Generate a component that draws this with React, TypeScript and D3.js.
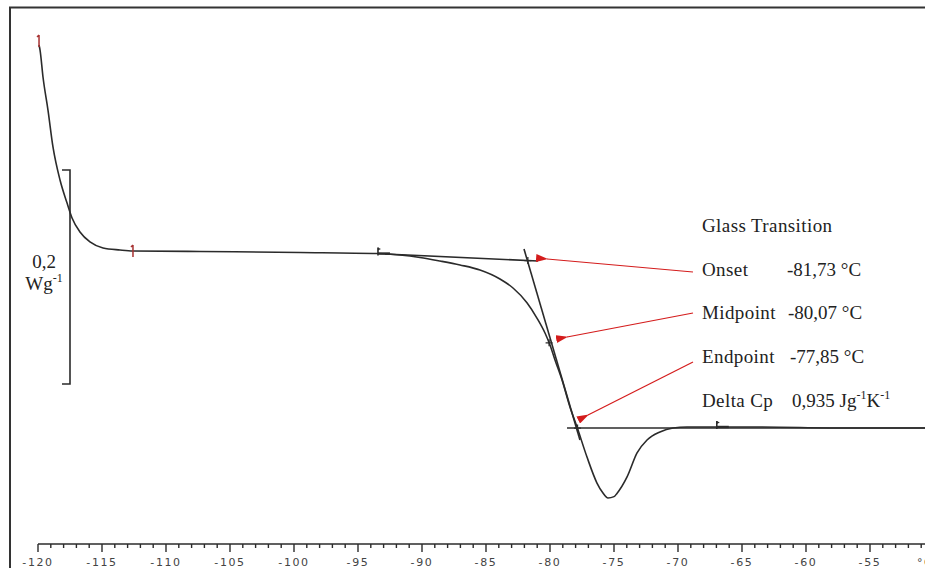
import React from "react";
import * as d3 from "d3";

// DSC heating curve: temperature (°C) vs heat flow (W/g, relative to the glassy baseline)
const temperature = [
  -119.92, -119.84, -119.61, -119.22, -118.83, -118.28, -117.73, -117.34, -116.72, -115.94,
  -114.92, -113.59, -112.58, -107.34, -99.53, -93.44, -91.72, -90.16, -88.59, -87.03,
  -85.47, -83.91, -82.89, -81.8, -81.02, -80.39, -80.0, -79.61, -79.06, -78.44,
  -77.89, -77.11, -76.33, -75.86, -75.47, -75.0, -74.77, -73.98, -73.2, -72.42,
  -71.41, -70.39, -69.3, -64.38, -56.56, -50.0,
];
const heatFlow = [
  0.1916, 0.1869, 0.1617, 0.1308, 0.0963, 0.0654, 0.0439, 0.0299, 0.0168, 0.0075,
  0.0019, 0.0, -0.0009, -0.0014, -0.0023, -0.0033, -0.0047, -0.007, -0.0103, -0.014,
  -0.0187, -0.0271, -0.0355, -0.0493, -0.0636, -0.0776, -0.0888, -0.1028, -0.1215, -0.1467,
  -0.1654, -0.1935, -0.2178, -0.2272, -0.2318, -0.2305, -0.2275, -0.2121, -0.1897, -0.1776,
  -0.1701, -0.1664, -0.1654, -0.1654, -0.1664, -0.1664,
];

// Construction lines for the glass transition evaluation
const tangentGlass = { t: [-92.89, -80.94], v: [-0.0037, -0.0103] };
const tangentInflection = { t: [-82.03, -77.66], v: [0.0009, -0.1776] };
const tangentRubber = { t: [-78.67, -50.0], v: [-0.1664, -0.1664] };

// Evaluation limits (red) and integration limits (black)
const redMarkers = [-119.92, -112.58];
const blackMarkers = [-93.44, -66.97];

// Glass transition results
const resultLabels = ["Onset", "Midpoint", "Endpoint", "Delta Cp"];
const resultValues = ["-81,73 °C", "-80,07 °C", "-77,85 °C", "0,935 Jg"];
const transitionTemps = [-81.73, -80.07, -77.85];
// Arrow tips, placed just right of each characteristic point
const arrowTipT = [-80.23, -78.67, -77.03];
const arrowTipV = [-0.0084, -0.0813, -0.1542];

// Temperature axis
const tempMin = -120;
const tempMax = -50;
const majorStep = 5;

export default function App() {
  const width = 925;
  const height = 568;

  const x = d3.scaleLinear().domain([tempMin, tempMax]).range([38, 934]);
  const y = d3.scaleLinear().domain([0, -0.2]).range([250, 464]);

  const points: [number, number][] = temperature.map((t, i) => [t, heatFlow[i]]);
  const line = d3
    .line<[number, number]>()
    .x((d) => x(d[0]))
    .y((d) => y(d[1]))
    .curve(d3.curveMonotoneX);

  const interp = (t: number) => {
    const i = d3.bisectLeft(temperature, t);
    if (i <= 0) return heatFlow[0];
    if (i >= temperature.length) return heatFlow[heatFlow.length - 1];
    const t0 = temperature[i - 1], t1 = temperature[i];
    const f = (t - t0) / (t1 - t0);
    return heatFlow[i - 1] + f * (heatFlow[i] - heatFlow[i - 1]);
  };

  const segLine = (s: { t: number[]; v: number[] }) =>
    `M${x(s.t[0])},${y(s.v[0])}L${x(s.t[1])},${y(s.v[1])}`;

  const minorTicks = d3.range(tempMin, tempMax + 0.5, 1);
  const majorTicks = d3.range(tempMin, tempMax, majorStep);

  const axisY = 544;
  const stroke = "#2b2b2b";
  const red = "#d41c1c";
  const textFont = "'Liberation Serif', 'Times New Roman', serif";

  const glassAt = (t: number) =>
    tangentGlass.v[0] +
    ((t - tangentGlass.t[0]) / (tangentGlass.t[1] - tangentGlass.t[0])) *
      (tangentGlass.v[1] - tangentGlass.v[0]);

  const labelX = 702;
  const valueX = [787, 788, 790, 792];
  const rowY = [276, 319, 363, 407];
  const arrowStart: [number, number][] = [
    [693, 272],
    [693, 313],
    [693, 362],
  ];

  return (
    <svg
      width={width}
      height={height}
      style={{ position: "absolute", left: 0, top: 0, background: "#fff", display: "block" }}
    >
      <defs>
        <marker
          id="arrowHead"
          viewBox="0 0 12 8"
          refX="1"
          refY="4"
          markerWidth="12"
          markerHeight="8"
          markerUnits="userSpaceOnUse"
          orient="auto-start-reverse"
        >
          <path d="M0,4L12,0L12,8Z" fill={red} />
        </marker>
      </defs>

      {/* frame */}
      <path d="M10,568V7.5H925" fill="none" stroke="#333" strokeWidth={2} />

      {/* heat flow scale bar */}
      <path
        d={`M62,${y(0.0748)}H70V${y(-0.1252)}H62`}
        fill="none"
        stroke={stroke}
        strokeWidth={1.6}
      />
      <text x={44} y={268} fontFamily={textFont} fontSize={19} textAnchor="middle" fill="#222">
        0,2
      </text>
      <text x={44} y={290} fontFamily={textFont} fontSize={19} textAnchor="middle" fill="#222">
        Wg
        <tspan fontSize={12} dy={-8}>
          -1
        </tspan>
      </text>

      {/* tangents */}
      <path d={segLine(tangentGlass)} stroke={stroke} strokeWidth={1.6} fill="none" />
      <path d={segLine(tangentInflection)} stroke={stroke} strokeWidth={1.6} fill="none" />
      <path d={segLine(tangentRubber)} stroke={stroke} strokeWidth={1.6} fill="none" />

      {/* measured curve */}
      <path d={line(points) ?? ""} fill="none" stroke={stroke} strokeWidth={1.6} />

      {/* onset / midpoint / endpoint crosses */}
      {transitionTemps.map((t, i) => {
        const cx = x(t);
        const cy = i === 0 ? y(glassAt(t)) : i === 1 ? y(interp(t)) : y(tangentRubber.v[0]);
        return (
          <path
            key={`c${i}`}
            d={`M${cx - 3.5},${cy}H${cx + 3.5}M${cx},${cy - 3.5}V${cy + 3.5}`}
            stroke={stroke}
            strokeWidth={1.3}
          />
        );
      })}

      {/* evaluation limit markers */}
      {redMarkers.map((t, i) => {
        const cx = x(t);
        const cy = i === 0 ? y(interp(t)) - 4 : y(interp(t));
        return (
          <path
            key={`r${i}`}
            d={`M${cx},${cy - 6}V${cy + 6}M${cx},${cy - 6}l-2,2`}
            stroke="#a83232"
            strokeWidth={1.5}
            fill="none"
          />
        );
      })}
      {blackMarkers.map((t, i) => {
        const cx = x(t);
        const cy = y(interp(t));
        return (
          <g key={`b${i}`}>
            <path
              d={`M${cx},${cy - 6}V${cy + 2}`}
              stroke={stroke}
              strokeWidth={1.6}
              fill="none"
            />
            <path d={`M${cx},${cy - 6}l3,1.5l-3,1.5Z`} fill={stroke} />
            <path d={`M${cx},${cy}h12`} stroke={stroke} strokeWidth={2.4} />
          </g>
        );
      })}

      {/* annotation arrows */}
      {arrowStart.map((s, i) => (
        <line
          key={`a${i}`}
          x1={s[0]}
          y1={s[1]}
          x2={x(arrowTipT[i])}
          y2={y(arrowTipV[i])}
          stroke={red}
          strokeWidth={1.2}
          markerEnd="url(#arrowHead)"
        />
      ))}

      {/* results */}
      <g fontFamily={textFont} fontSize={19} fill="#222" letterSpacing={0.4}>
        <text x={labelX} y={232}>
          Glass Transition
        </text>
        {resultLabels.map((l, i) => (
          <text key={`l${i}`} x={labelX} y={rowY[i]}>
            {l}
          </text>
        ))}
        {resultValues.map((v, i) => (
          <text key={`v${i}`} x={valueX[i]} y={rowY[i]} letterSpacing={0}>
            {v}
            {i === 3 && (
              <>
                <tspan fontSize={12} dy={-8}>
                  -1
                </tspan>
                <tspan dy={8}>K</tspan>
                <tspan fontSize={12} dy={-8}>
                  -1
                </tspan>
              </>
            )}
          </text>
        ))}
      </g>

      {/* temperature axis */}
      <path d={`M${x(tempMin)},${axisY}H925`} stroke={stroke} strokeWidth={1.6} />
      {minorTicks.map((t) => {
        const major = Math.round(t) % majorStep === 0;
        return (
          <line
            key={`t${t}`}
            x1={x(t)}
            x2={x(t)}
            y1={axisY}
            y2={axisY + (major ? 8 : 4)}
            stroke={stroke}
            strokeWidth={1.4}
          />
        );
      })}
      <g fontFamily="'DejaVu Sans', Verdana, sans-serif" fontSize={11} fill="#444" letterSpacing={1.6}>
        {majorTicks.map((t) => (
          <text key={`lab${t}`} x={x(t)} y={566} textAnchor="middle">
            {t}
          </text>
        ))}
        <text x={917} y={566}>
          °C
        </text>
      </g>
    </svg>
  );
}
